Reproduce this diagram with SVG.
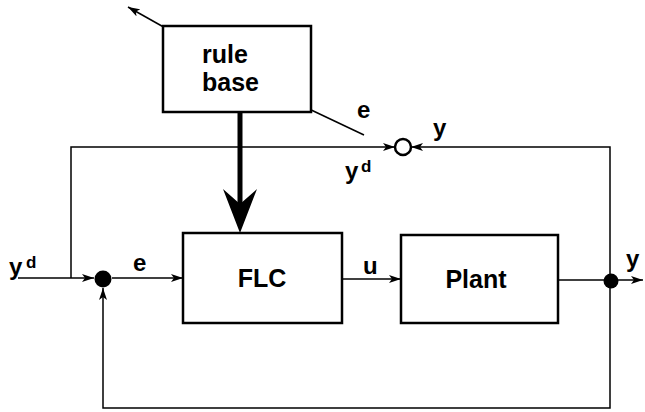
<svg xmlns="http://www.w3.org/2000/svg" width="645" height="412" viewBox="0 0 645 412">
<defs>
<style>
.box{fill:#fff;stroke:#000;stroke-width:2.5}
.ln{fill:none;stroke:#000;stroke-width:1.5}
.t{font-family:"Liberation Sans",Arial,Helvetica,sans-serif;font-weight:bold;fill:#000}
.big{font-size:25px}
.lab{font-size:24px}
.sup{font-size:17px}
</style>
<marker id="arr" viewBox="0 0 12 8" refX="12" refY="4" markerWidth="12" markerHeight="8" markerUnits="userSpaceOnUse" orient="auto">
<path d="M0,0 L12,4 L0,8 L3,4 Z" fill="#000"/>
</marker>
</defs>
<rect width="645" height="412" fill="#fff"/>
<g id="connectors">
<line class="ln" x1="192" y1="43" x2="128" y2="7" marker-end="url(#arr)"/>
<line class="ln" x1="288" y1="99" x2="364" y2="135"/>
<polyline class="ln" points="71,278 71,147 395,147" marker-end="url(#arr)"/>
<polyline class="ln" points="610,280 610,147 411,147" marker-end="url(#arr)"/>
<line class="ln" x1="18" y1="278" x2="94" y2="278" marker-end="url(#arr)"/>
<line class="ln" x1="112" y1="278" x2="183" y2="278" marker-end="url(#arr)"/>
<line class="ln" x1="342" y1="279" x2="401" y2="279" marker-end="url(#arr)"/>
<line class="ln" x1="558" y1="280" x2="643" y2="280" marker-end="url(#arr)"/>
<polyline class="ln" points="610,280 610,408 103,408 103,288" marker-end="url(#arr)"/>
<line x1="240" y1="113" x2="240" y2="205" stroke="#000" stroke-width="5"/>
<polygon points="240,233 223,189 240,204 257,189" fill="#000"/>
<circle cx="403" cy="147" r="8" fill="#fff" stroke="#000" stroke-width="2.5"/>
<circle cx="103" cy="279" r="8.5" fill="#000"/>
<circle cx="611" cy="281" r="7.5" fill="#000"/>
</g>
<g id="rulebase">
<rect class="box" x="163" y="26" width="148" height="86"/>
<text class="t big" x="202" y="63">rule</text>
<text class="t big" x="202" y="91">base</text>
</g>
<g id="flc">
<rect class="box" x="183" y="233" width="159" height="90"/>
<text class="t big" x="262" y="287" text-anchor="middle" font-size="26">FLC</text>
</g>
<g id="plant">
<rect class="box" x="401" y="235" width="157" height="88"/>
<text class="t big" x="476" y="288" text-anchor="middle">Plant</text>
</g>
<g id="labels">
<text class="t lab" x="357" y="118">e</text>
<text class="t lab" x="433" y="136">y</text>
<text class="t lab" x="345" y="179" font-size="22">y</text>
<text class="t sup" x="361" y="172">d</text>
<text class="t lab" x="9" y="275" font-size="22">y</text>
<text class="t sup" x="26" y="268">d</text>
<text class="t lab" x="133" y="271">e</text>
<text class="t lab" x="363" y="274">u</text>
<text class="t lab" x="626" y="267">y</text>
</g>
</svg>
